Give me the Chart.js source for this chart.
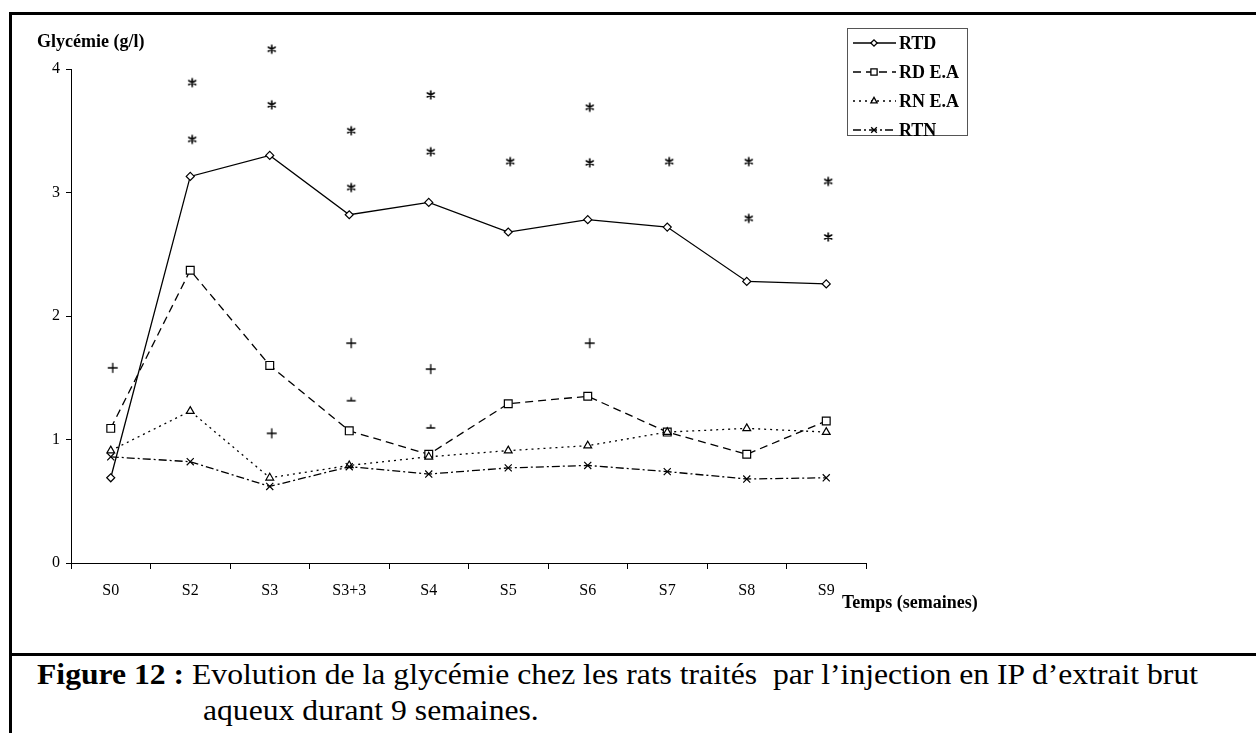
<!DOCTYPE html>
<html>
<head>
<meta charset="utf-8">
<script src="https://cdn.jsdelivr.net/npm/chart.js"></script>
<style>
  body { margin: 0; background: #fff; width: 1256px; height: 733px; overflow: hidden; position: relative; }
  .frame { position: absolute; left: 9px; top: 12px; right: 0; bottom: 0; border-left: 3px solid #000; border-top: 3px solid #000; }
  .sep { position: absolute; left: 9px; top: 653px; right: 0; height: 3px; background: #000; }
  #wrap { position: absolute; left: 0; top: 0; width: 1256px; height: 650px; }
  .caption { position: absolute; font-family: "Liberation Serif", serif; font-size: 30px; color: #000; white-space: pre; transform: scaleX(1.055); transform-origin: left top; }
</style>
</head>
<body>
<div class="frame"></div>
<div class="sep"></div>
<div id="wrap"><canvas id="chart"></canvas></div>
<div class="caption" style="left:37px; top:657px;"><b>Figure 12 :</b> Evolution de la glycémie chez les rats traités  par l’injection en IP d’extrait brut</div>
<div class="caption" style="left:203px; top:693px;">aqueux durant 9 semaines.</div>
<script>
const weeks = ["S0", "S2", "S3", "S3+3", "S4", "S5", "S6", "S7", "S8", "S9"];
const yTicks = [0, 1, 2, 3, 4];

const rtd  = [0.69, 3.13, 3.30, 2.82, 2.92, 2.68, 2.78, 2.72, 2.28, 2.26];
const rdEA = [1.09, 2.37, 1.60, 1.07, 0.88, 1.29, 1.35, 1.06, 0.88, 1.15];
const rnEA = [0.91, 1.23, 0.69, 0.79, 0.86, 0.91, 0.95, 1.06, 1.09, 1.06];
const rtn  = [0.86, 0.82, 0.62, 0.78, 0.72, 0.77, 0.79, 0.74, 0.68, 0.69];

// significance marks (* and +), placed at their level above each week
const starHigh = [null, 3.89, 4.16, 3.50, 3.79, 3.25, 3.69, 3.25, 3.25, 3.09];
const starLow  = [null, 3.43, 3.71, 3.04, 3.33, null, 3.24, null, 2.79, 2.64];
const plusHigh = [1.58, null, 1.05, 1.78, 1.57, null, 1.78, null, null, null];
const plusCut  = [null, null, null, 1.33, 1.11, null, null, null, null, null];

const serif = "'Liberation Serif', 'Times New Roman', serif";

// small marker images for the significance signs
function markImg(draw) {
  const c = document.createElement("canvas");
  c.width = 16; c.height = 16;
  const g = c.getContext("2d");
  g.strokeStyle = "#000";
  g.lineCap = "round";
  draw(g);
  return c;
}

const starImg = markImg(g => {
  g.lineWidth = 1.6;
  g.beginPath();
  g.moveTo(10, 4); g.lineTo(10, 12);
  g.moveTo(6.5, 6); g.lineTo(13.5, 10);
  g.moveTo(6.5, 10); g.lineTo(13.5, 6);
  g.stroke();
});
const plusImg = markImg(g => {
  g.lineWidth = 1.3;
  g.beginPath();
  g.moveTo(5.5, 8); g.lineTo(14.5, 8);
  g.moveTo(10, 3.5); g.lineTo(10, 12.5);
  g.stroke();
});
const cutImg = markImg(g => {
  g.lineWidth = 1.3;
  g.beginPath();
  g.moveTo(6, 10); g.lineTo(14, 10);
  g.moveTo(10, 10); g.lineTo(10, 7);
  g.stroke();
});

function series(label, data, dash, style, radius) {
  return {
    label, data,
    borderColor: "#000", borderWidth: 1.3, borderDash: dash,
    pointStyle: style, pointRadius: radius, pointBorderWidth: 1.2,
    pointBackgroundColor: "#fff", pointBorderColor: "#000",
    fill: false, tension: 0, inLegend: true
  };
}

function marks(data, img) {
  return {
    label: "", data, showLine: false, pointStyle: img, pointRadius: 6,
    borderColor: "#000", backgroundColor: "#000", clip: false, isMark: true
  };
}

const datasets = [
  marks(starHigh, starImg), marks(starLow, starImg),
  marks(plusHigh, plusImg), marks(plusCut, cutImg),
  series("RTN", rtn, [8, 3, 2, 3], "crossRot", 5),
  series("RN E.A", rnEA, [2, 4], "triangle", 4.5),
  series("RD E.A", rdEA, [8, 5], "rect", 5.5),
  series("RTD", rtd, [], "rectRot", 4)
];

// Chart.js skips points outside the chart area; marks above the y max are drawn here
const overflowMarks = {
  id: "overflowMarks",
  afterDatasetsDraw(chart) {
    const ctx = chart.ctx;
    const xs = chart.scales.x, ys = chart.scales.y;
    chart.data.datasets.filter(d => d.isMark).forEach(d => {
      d.data.forEach((v, i) => {
        if (v === null || v <= ys.max) return;
        const img = d.pointStyle;
        ctx.drawImage(img, xs.getPixelForValue(i) - img.width / 2, ys.getPixelForValue(v) - img.height / 2);
      });
    });
  }
};

const boxLegend = {
  id: "boxLegend",
  afterDraw(chart) {
    const ctx = chart.ctx;
    ctx.save();
    ctx.strokeStyle = "#555";
    ctx.lineWidth = 1;
    ctx.strokeRect(847.5, 28.5, 120, 107);
    const items = chart.data.datasets.filter(d => d.inLegend).reverse();
    items.forEach((d, i) => {
      const y = 43 + i * 29;
      ctx.strokeStyle = "#000";
      ctx.lineWidth = 1.3;
      ctx.setLineDash(d.borderDash);
      ctx.beginPath(); ctx.moveTo(853, y); ctx.lineTo(896, y); ctx.stroke();
      ctx.setLineDash([]);
      ctx.fillStyle = "#fff";
      Chart.helpers.drawPoint(ctx, { pointStyle: d.pointStyle, radius: d.pointRadius * 0.8, rotation: 0, borderWidth: 1 }, 874, y);
      ctx.fillStyle = "#000";
      ctx.font = "bold 18px " + serif;
      ctx.textBaseline = "middle";
      ctx.fillText(d.label, 899, y + 1);
    });
    const a = chart.chartArea;
    ctx.font = "bold 18px " + serif;
    ctx.textBaseline = "middle";
    ctx.fillText("Glycémie (g/l)", a.left - 34, a.top - 27);
    ctx.fillText("Temps (semaines)", a.right - 24, a.bottom + 40);
    ctx.restore();
  }
};

new Chart(document.getElementById("chart"), {
  type: "line",
  data: { labels: weeks, datasets },
  options: {
    responsive: true,
    maintainAspectRatio: false,
    animation: false,
    layout: { padding: { left: 0, top: 69, right: 390, bottom: 0 } },
    plugins: { legend: { display: false }, tooltip: { enabled: false } },
    scales: {
      x: {
        offset: true,
        grid: { offset: true, drawOnChartArea: false, tickLength: 6, color: "#000", tickWidth: 1 },
        border: { color: "#000", width: 1 },
        ticks: { color: "#000", font: { family: serif, size: 16 }, padding: 12, maxRotation: 0 },
        afterFit(s) { s.height = 87; }
      },
      y: {
        min: 0, max: 4,
        afterBuildTicks(s) { s.ticks = yTicks.map(v => ({ value: v })); },
        grid: { drawOnChartArea: false, tickLength: 5, color: "#000", tickWidth: 1 },
        border: { color: "#000", width: 1 },
        ticks: { color: "#000", font: { family: serif, size: 16 }, padding: 6 },
        afterFit(s) { s.width = 71; }
      }
    }
  },
  plugins: [overflowMarks, boxLegend]
});
</script>
</body>
</html>
